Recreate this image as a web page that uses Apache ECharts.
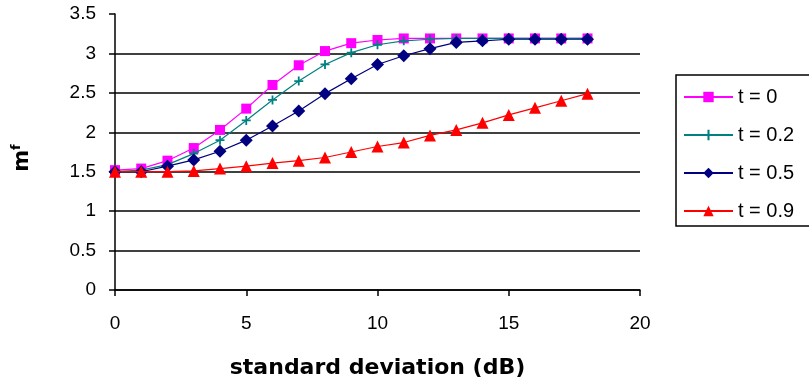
<!DOCTYPE html>
<html>
<head>
<meta charset="utf-8">
<script src="https://cdn.jsdelivr.net/npm/echarts@6/dist/echarts.min.js"></script>
<style>
html,body{margin:0;padding:0;background:#fff;}
#chart{width:809px;height:390px;}
</style>
</head>
<body>
<div id="chart"></div>
<script>
var xValues = [0,1,2,3,4,5,6,7,8,9,10,11,12,13,14,15,16,17,18];
var seriesNames = ['t = 0','t = 0.2','t = 0.5','t = 0.9'];
var t0  = [1.52,1.54,1.64,1.80,2.03,2.30,2.60,2.85,3.03,3.13,3.17,3.19,3.19,3.19,3.19,3.19,3.19,3.19,3.19];
var t02 = [1.50,1.52,1.59,1.73,1.90,2.15,2.41,2.65,2.86,3.01,3.11,3.16,3.18,3.19,3.19,3.19,3.19,3.19,3.19];
var t05 = [1.50,1.50,1.57,1.65,1.76,1.90,2.08,2.27,2.49,2.68,2.86,2.97,3.06,3.14,3.16,3.18,3.18,3.18,3.18];
var t09 = [1.50,1.50,1.50,1.51,1.54,1.57,1.61,1.64,1.68,1.75,1.82,1.87,1.96,2.03,2.12,2.22,2.31,2.40,2.49];
var xTicks = [0,5,10,15,20];
var yTicks = [0,0.5,1,1.5,2,2.5,3,3.5];

function pairs(ys){ return xValues.map(function(x,i){ return [x, ys[i]]; }); }

var colors = ['#FF00FF','#008080','#000080','#FF0000'];
var symbols = ['rect','path://M4,0H6V4H10V6H6V10H4V6H0V4H4Z','diamond','triangle'];
var sizes = [10,9,13,12];
var datasets = [t0,t02,t05,t09];

var chart = echarts.init(document.getElementById('chart'), null, {renderer:'canvas'});
chart.setOption({
  animation:false,
  backgroundColor:'#fff',
  grid:{left:115,right:169,top:14,bottom:100,containLabel:false},
  legend:{
    orient:'vertical',
    left:676, top:75,
    padding:[12,20,5,7],
    itemWidth:49, itemHeight:13, itemGap:18,
    borderColor:'#000', borderWidth:1.5,
    textStyle:{fontFamily:'Liberation Sans',fontSize:20,color:'#000',lineHeight:20},
    data:seriesNames
  },
  xAxis:{
    type:'value', min:xTicks[0], max:xTicks[xTicks.length-1], interval:5,
    axisLine:{lineStyle:{color:'#000',width:1.5}},
    axisTick:{show:true,length:6,lineStyle:{color:'#000',width:1.5}},
    axisLabel:{margin:24,fontFamily:'Liberation Sans',fontSize:19,color:'#000'},
    splitLine:{show:false},
    name:'standard deviation (dB)',
    nameLocation:'middle', nameGap:67,
    nameTextStyle:{fontFamily:'DejaVu Sans',fontWeight:'bold',fontSize:22,color:'#000'}
  },
  yAxis:{
    type:'value', min:yTicks[0], max:yTicks[yTicks.length-1], interval:0.5,
    axisLine:{show:true,lineStyle:{color:'#000',width:1.5}},
    axisTick:{show:true,length:6,lineStyle:{color:'#000',width:1.5}},
    axisLabel:{margin:19,fontFamily:'Liberation Sans',fontSize:19,color:'#000'},
    splitLine:{show:true,showMaxLine:false,lineStyle:{color:'#000',width:1.5}},
    name:'{m|m}{f|f}',
    nameLocation:'middle', nameGap:80, nameRotate:90,
    nameTextStyle:{
      padding:[0,12,0,0],
      rich:{
        m:{fontFamily:'DejaVu Sans',fontWeight:'bold',fontSize:21,color:'#000'},
        f:{fontFamily:'DejaVu Sans',fontWeight:'bold',fontSize:13,color:'#000',verticalAlign:'top',padding:[0,0,12,0]}
      }
    }
  },
  series: datasets.map(function(d,i){
    return {
      name:seriesNames[i], type:'line', data:pairs(d),
      symbol:symbols[i], symbolSize:sizes[i], showAllSymbol:true,
      lineStyle:{color:colors[i],width:1.2},
      itemStyle:{color:colors[i]},
      z:2+i
    };
  })
});
</script>
</body>
</html>
